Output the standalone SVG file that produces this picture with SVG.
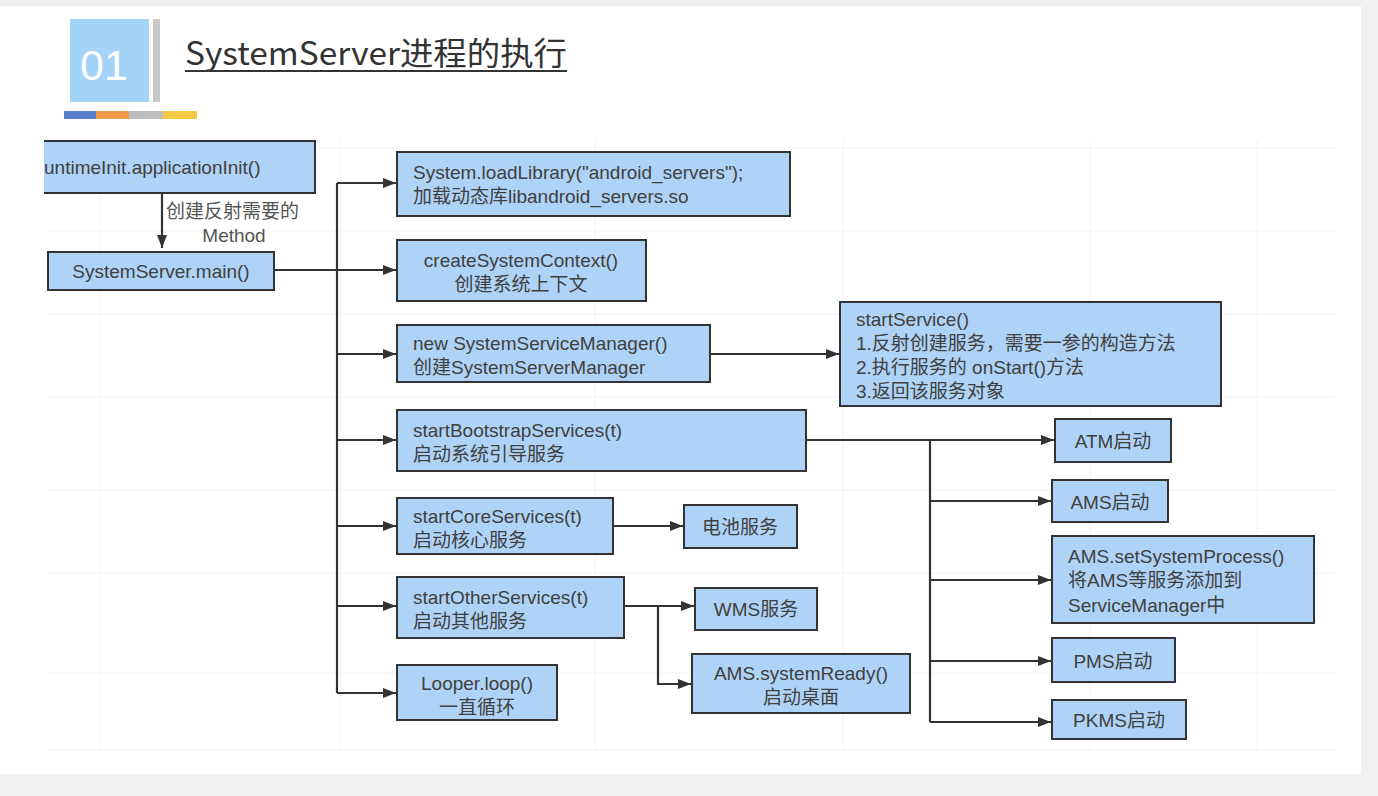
<svg xmlns="http://www.w3.org/2000/svg" width="1378" height="796" viewBox="0 0 1378 796">
<defs>
<marker id="arr" viewBox="0 0 13 10" refX="13" refY="5" markerWidth="13" markerHeight="10" markerUnits="userSpaceOnUse" orient="auto">
<path d="M0,0 L13,5 L0,10 Z" fill="#333"/>
</marker>
<style>
.box{fill:#aed3f6;stroke:#333;stroke-width:2}
.t{font-family:"Liberation Sans","Noto Sans CJK SC",sans-serif;font-size:19px;fill:#404040}
.c{text-anchor:middle}
.ln{fill:none;stroke:#333;stroke-width:2.2}
.ar{fill:none;stroke:#333;stroke-width:2.2;marker-end:url(#arr)}
.g{stroke:#f4f4f4;stroke-width:1}
</style>
</defs>
<rect width="1378" height="796" fill="#f0f0f0"/>
<rect x="0" y="6" width="1361" height="768" fill="#ffffff"/>
<g id="grid">
<path class="g" d="M45,148H1335M45,231H1335M45,314H1335M45,397H1335M45,490H1335M45,573H1335M45,673H1335M45,750H1335M100,140V750M340,140V750M595,140V750M843,140V750M1090,140V750M1257,140V750"/>
</g>
<g id="header">
<rect x="70" y="19" width="79" height="83" fill="#a3d3f7"/>
<text x="104" y="80" font-family="Liberation Sans,Arial,sans-serif" font-size="43" fill="#ffffff" text-anchor="middle">01</text>
<rect x="153" y="19" width="7" height="83" fill="#c8c8c8"/>
<rect x="64" y="111" width="32" height="8" fill="#5a7fd1"/>
<rect x="96" y="111" width="33" height="8" fill="#f09b4c"/>
<rect x="129" y="111" width="34" height="8" fill="#bdbdbd"/>
<rect x="163" y="111" width="34" height="8" fill="#f6c945"/>
<text x="185" y="65" font-family="Noto Sans CJK SC,Liberation Sans,sans-serif" font-size="32" fill="#333" textLength="382" lengthAdjust="spacingAndGlyphs">SystemServer进程的执行</text>
<line x1="185" y1="71" x2="567" y2="71" stroke="#333" stroke-width="2"/>
</g>
<g id="connectors">
<path class="ar" d="M162,193V248"/>
<path class="ln" d="M274,270H337M337,183V693"/>
<path class="ar" d="M337,183H396"/>
<path class="ar" d="M337,270H396"/>
<path class="ar" d="M337,354H396"/>
<path class="ar" d="M337,440H396"/>
<path class="ar" d="M337,526H396"/>
<path class="ar" d="M337,606H396"/>
<path class="ar" d="M337,693H396"/>
<path class="ar" d="M710,354H839"/>
<path class="ar" d="M806,440H1054"/>
<path class="ln" d="M930,440V722"/>
<path class="ar" d="M930,501H1051"/>
<path class="ar" d="M930,580H1051"/>
<path class="ar" d="M930,661H1051"/>
<path class="ar" d="M930,722H1051"/>
<path class="ar" d="M613,526H683"/>
<path class="ar" d="M624,606H694"/>
<path class="ar" d="M658,606V684H691"/>
<text class="t" x="166" y="218" style="fill:#555">创建反射需要的</text>
<text class="t c" x="234" y="242" style="fill:#555">Method</text>
</g>
<g id="n-runtimeinit">
<rect class="box" x="30" y="141" width="285" height="52"/>
<rect x="0" y="138" width="44" height="60" fill="#ffffff"/>
<text class="t" x="44" y="174">untimeInit.applicationInit()</text>
</g>
<g id="n-main">
<rect class="box" x="48" y="252" width="226" height="38"/>
<text class="t c" x="161" y="278">SystemServer.main()</text>
</g>
<g id="n-loadlib">
<rect class="box" x="397" y="152" width="393" height="64"/>
<text class="t" x="413" y="179">System.loadLibrary("android_servers");</text>
<text class="t" x="413" y="203">加载动态库libandroid_servers.so</text>
</g>
<g id="n-context">
<rect class="box" x="397" y="240" width="249" height="61"/>
<text class="t c" x="521" y="267">createSystemContext()</text>
<text class="t c" x="521" y="291">创建系统上下文</text>
</g>
<g id="n-ssm">
<rect class="box" x="397" y="325" width="313" height="57"/>
<text class="t" x="413" y="350">new SystemServiceManager()</text>
<text class="t" x="413" y="374">创建SystemServerManager</text>
</g>
<g id="n-startservice">
<rect class="box" x="840" y="302" width="381" height="104"/>
<text class="t" x="856" y="326">startService()</text>
<text class="t" x="856" y="350">1.反射创建服务，需要一参的构造方法</text>
<text class="t" x="856" y="374">2.执行服务的 onStart()方法</text>
<text class="t" x="856" y="398">3.返回该服务对象</text>
</g>
<g id="n-bootstrap">
<rect class="box" x="397" y="410" width="409" height="61"/>
<text class="t" x="413" y="437">startBootstrapServices(t)</text>
<text class="t" x="413" y="461">启动系统引导服务</text>
</g>
<g id="n-core">
<rect class="box" x="397" y="498" width="216" height="56"/>
<text class="t" x="413" y="523">startCoreServices(t)</text>
<text class="t" x="413" y="547">启动核心服务</text>
</g>
<g id="n-battery">
<rect class="box" x="684" y="505" width="113" height="43"/>
<text class="t c" x="740" y="534">电池服务</text>
</g>
<g id="n-other">
<rect class="box" x="397" y="577" width="227" height="61"/>
<text class="t" x="413" y="604">startOtherServices(t)</text>
<text class="t" x="413" y="628">启动其他服务</text>
</g>
<g id="n-wms">
<rect class="box" x="695" y="588" width="122" height="42"/>
<text class="t c" x="756" y="616">WMS服务</text>
</g>
<g id="n-systemready">
<rect class="box" x="692" y="654" width="218" height="59"/>
<text class="t c" x="801" y="680">AMS.systemReady()</text>
<text class="t c" x="801" y="704">启动桌面</text>
</g>
<g id="n-looper">
<rect class="box" x="397" y="665" width="160" height="55"/>
<text class="t c" x="477" y="690">Looper.loop()</text>
<text class="t c" x="477" y="714">一直循环</text>
</g>
<g id="n-atm">
<rect class="box" x="1055" y="419" width="116" height="43"/>
<text class="t c" x="1113" y="448">ATM启动</text>
</g>
<g id="n-ams">
<rect class="box" x="1052" y="480" width="116" height="42"/>
<text class="t c" x="1110" y="509">AMS启动</text>
</g>
<g id="n-setsys">
<rect class="box" x="1052" y="536" width="262" height="87"/>
<text class="t" x="1068" y="563">AMS.setSystemProcess()</text>
<text class="t" x="1068" y="587">将AMS等服务添加到</text>
<text class="t" x="1068" y="612">ServiceManager中</text>
</g>
<g id="n-pms">
<rect class="box" x="1052" y="638" width="123" height="44"/>
<text class="t c" x="1113" y="668">PMS启动</text>
</g>
<g id="n-pkms">
<rect class="box" x="1052" y="700" width="134" height="39"/>
<text class="t c" x="1119" y="727">PKMS启动</text>
</g>
</svg>
